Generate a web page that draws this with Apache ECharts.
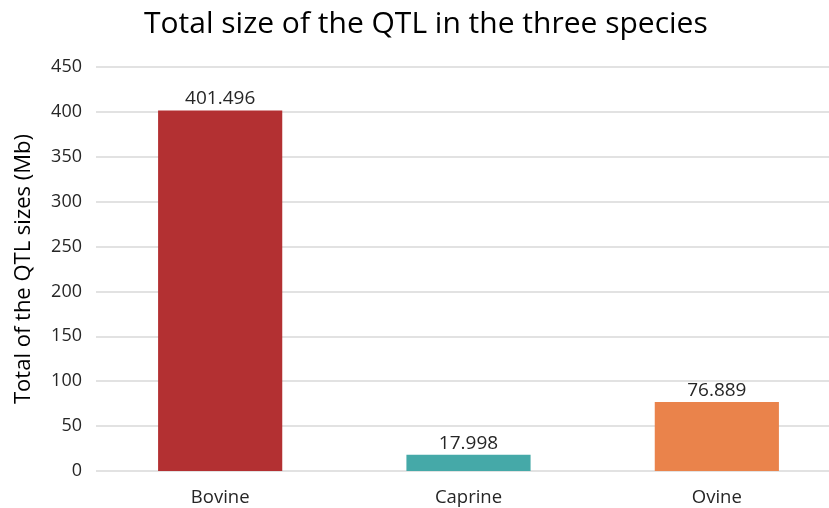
<!DOCTYPE html>
<html><head><meta charset="utf-8">
<script src="https://cdn.jsdelivr.net/npm/echarts@6/dist/echarts.min.js"></script>
<style>html,body{margin:0;padding:0;background:#fff}#c{width:829px;height:508px}</style>
</head><body><div id="c"></div>
<script>
const categories = ['Bovine', 'Caprine', 'Ovine'];
const values = [401.496, 17.998, 76.889];
const barColors = ['#B33032', '#45A9A8', '#EA834B'];
const yMin = 0, yMax = 450, yInterval = 50;
const FONT = 'Open Sans';

const chart = echarts.init(document.getElementById('c'));
chart.setOption({
  animation: false,
  title: {
    text: 'Total size of the QTL in the three species',
    left: 139, top: 4,
    textStyle: { fontFamily: FONT, fontSize: 30, fontWeight: 'normal', color: '#000' }
  },
  grid: { left: 96, width: 745, top: 67, bottom: 37, outerBoundsMode: 'none', containLabel: false },
  xAxis: {
    type: 'category', data: categories,
    axisLine: { show: false }, axisTick: { show: false },
    axisLabel: { fontFamily: FONT, fontSize: 18.5, color: '#262626', margin: 17 }
  },
  yAxis: {
    type: 'value', min: yMin, max: yMax, interval: yInterval,
    name: 'Total of the QTL sizes (Mb)', nameLocation: 'middle', nameGap: 61, nameMoveOverlap: false,
    nameTextStyle: { fontFamily: FONT, fontSize: 22, color: '#000' },
    axisLine: { show: false }, axisTick: { show: false },
    axisLabel: { fontFamily: FONT, fontSize: 18, color: '#262626', margin: 14 },
    splitLine: { lineStyle: { color: '#d9d9d9', width: 1.5 } }
  },
  series: [{
    type: 'bar',
    barWidth: '50%',
    data: values.map((v, i) => ({ value: v, itemStyle: { color: barColors[i] } })),
    label: { show: true, position: 'top', distance: 2, fontFamily: FONT, fontSize: 19, color: '#262626' }
  }]
});
</script></body></html>
